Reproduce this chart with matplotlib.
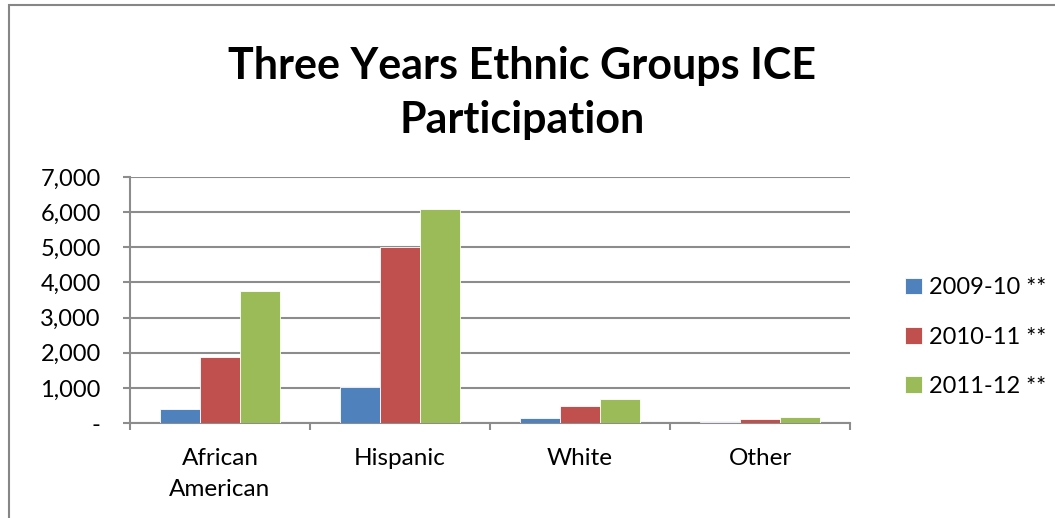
import matplotlib
matplotlib.use("Agg")
import matplotlib.pyplot as plt
import numpy as np
from matplotlib.patches import Rectangle

categories = ["African\nAmerican", "Hispanic", "White", "Other"]
series_names = ["2009-10 **", "2010-11 **", "2011-12 **"]
v2009 = [390, 1020, 130, 30]
v2010 = [1870, 5000, 490, 115]
v2011 = [3770, 6100, 690, 170]
yticks = [0, 1000, 2000, 3000, 4000, 5000, 6000, 7000]
ytick_labels = ["-", "1,000", "2,000", "3,000", "4,000", "5,000", "6,000", "7,000"]
colors = ["#4F81BD", "#C0504D", "#9BBB59"]

plt.rcParams['font.family'] = ['Lato', 'DejaVu Sans']

W, H = 1055, 518
fig = plt.figure(figsize=(W / 100, H / 100), dpi=100)
# chart border
fig.patches.append(Rectangle((9 / W, -0.1), 1.2, (H - 5) / H + 0.1, transform=fig.transFigure,
                             fill=False, edgecolor="#868686", linewidth=1.5))

ax = fig.add_axes([130 / W, (H - 423) / H, 720 / W, 246 / H])
x = np.arange(len(categories))
bw = 0.222
for i, (vals, c, name) in enumerate(zip([v2009, v2010, v2011], colors, series_names)):
    ax.bar(x + (i - 1) * bw, vals, width=bw, color=c, label=name, zorder=3,
           edgecolor="white", linewidth=0.6)

ax.set_xlim(-0.5, len(categories) - 0.5)
ax.set_ylim(0, 7000)
ax.set_yticks(yticks)
ax.set_yticklabels(ytick_labels, fontsize=17)
ax.yaxis.grid(True, color="#8C8C8C", linewidth=1.5, zorder=0)
ax.set_axisbelow(True)
ax.set_xticks(x)
ax.set_xticklabels(categories, fontsize=17.5, linespacing=1.6)
ax.tick_params(axis="x", length=0, pad=18)
ax.set_xticks(np.arange(-0.5, len(categories)), minor=True)
ax.tick_params(axis="x", which="minor", length=5, width=1.5, color="#8C8C8C", direction="out")
ax.tick_params(axis="y", length=5, width=1.5, color="#8C8C8C", direction="out", pad=16)
for s in ["top", "right"]:
    ax.spines[s].set_visible(False)
for s in ["left", "bottom"]:
    ax.spines[s].set_color("#8C8C8C")
    ax.spines[s].set_linewidth(1.5)

fig.text(522 / W, 1 - 93 / H, "Three Years Ethnic Groups ICE\nParticipation", ha="center", va="center",
         fontsize=31, fontweight="bold", linespacing=1.45)

leg = ax.legend(loc="center left", bbox_to_anchor=(884 / W, (H - 337) / H), bbox_transform=fig.transFigure,
                frameon=False, fontsize=17, handlelength=0.7, handleheight=0.7, handletextpad=0.3,
                labelspacing=1.2)

fig.savefig("out.png", dpi=100)
